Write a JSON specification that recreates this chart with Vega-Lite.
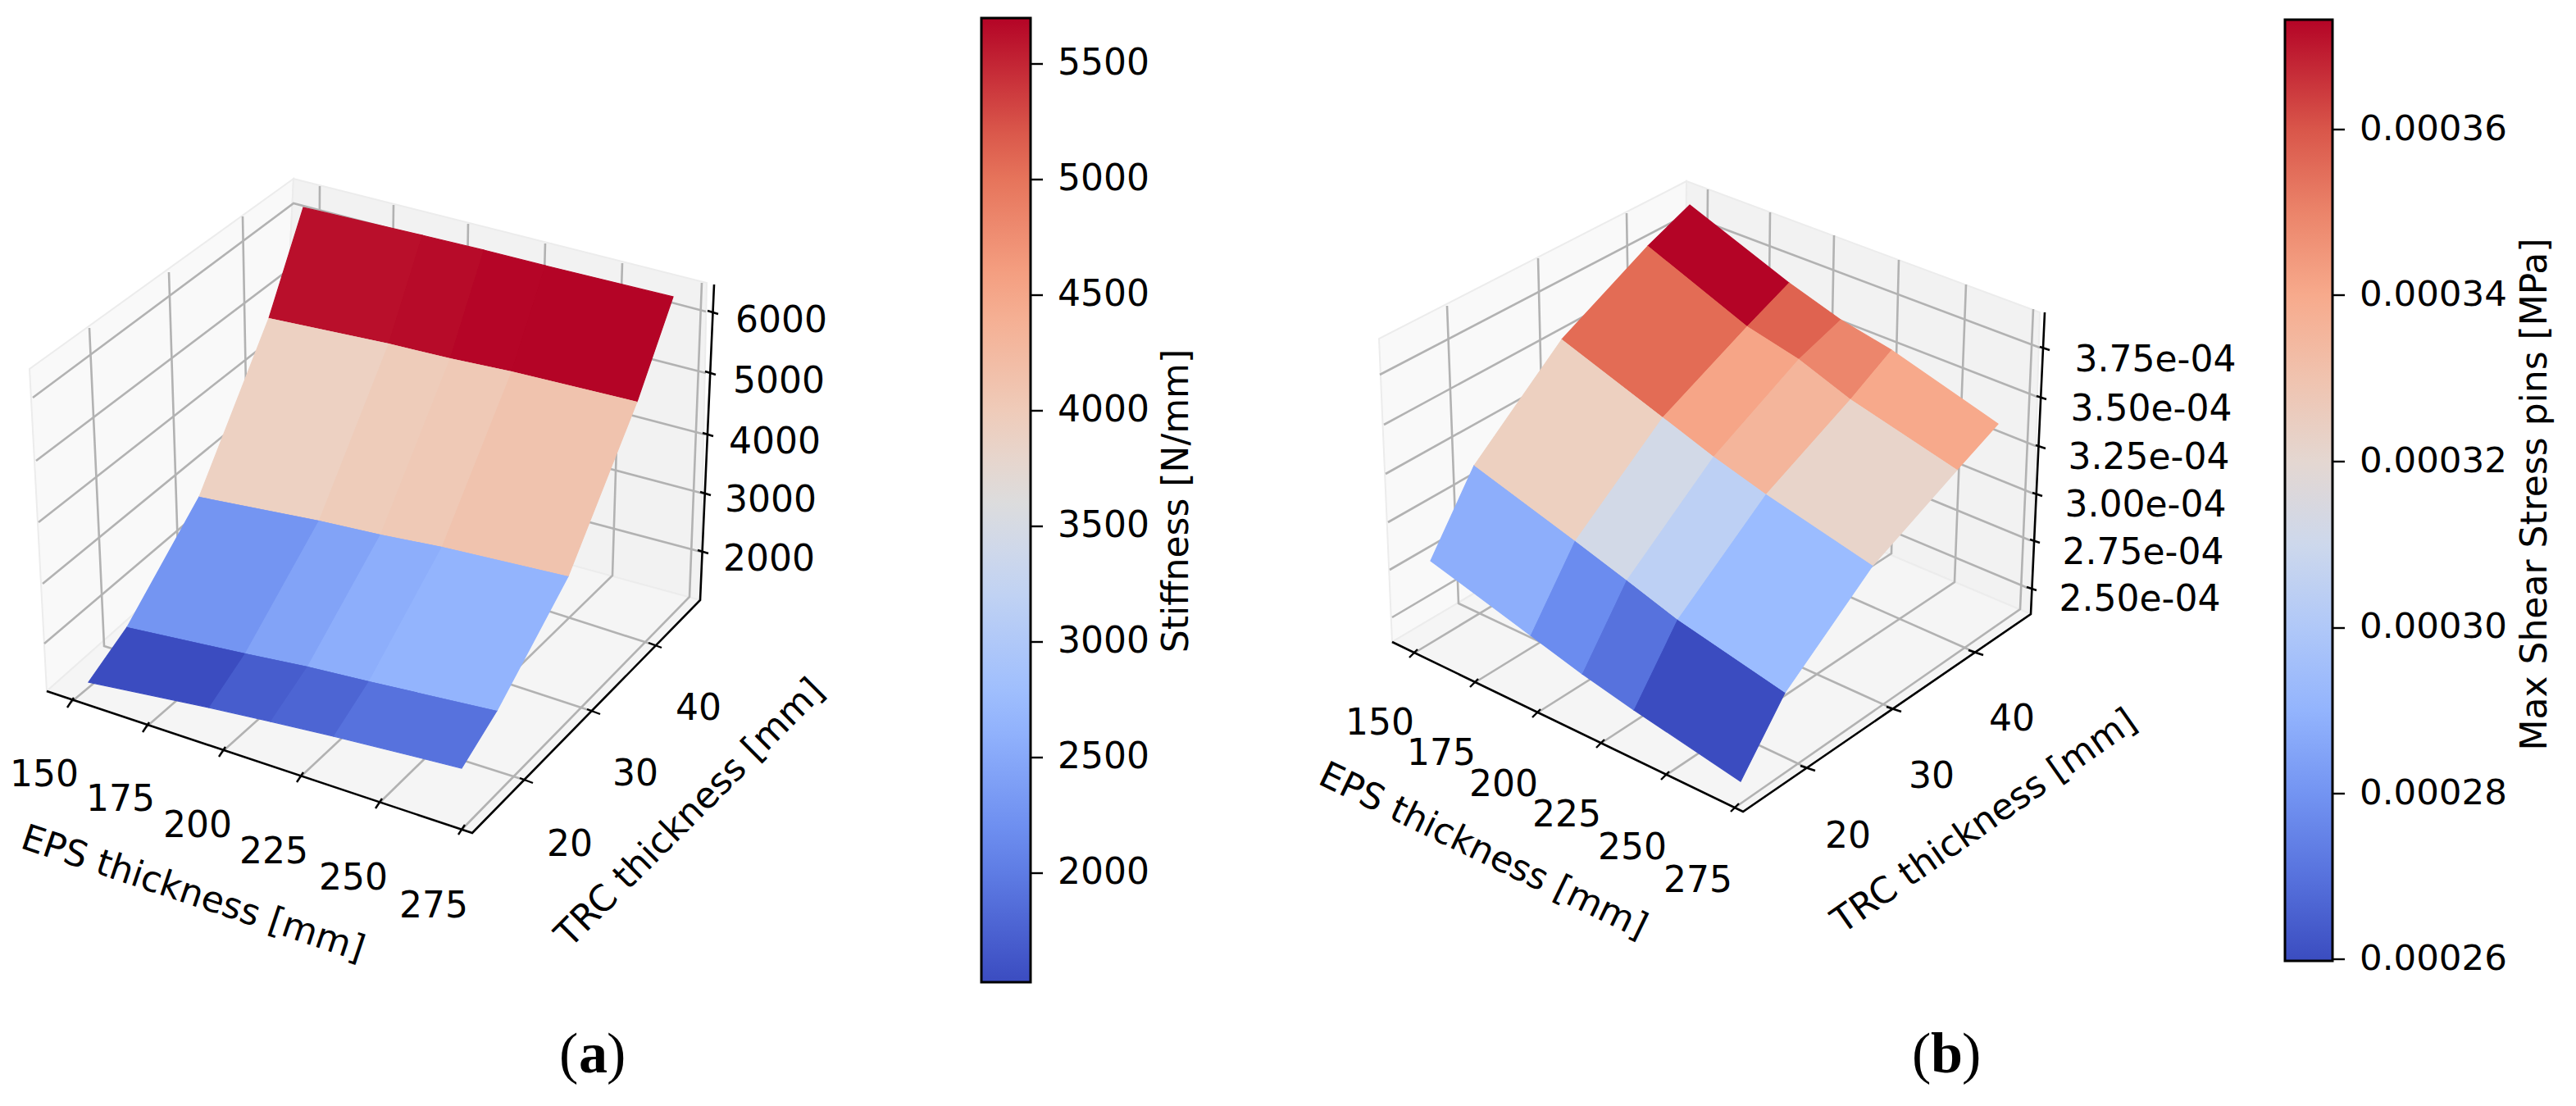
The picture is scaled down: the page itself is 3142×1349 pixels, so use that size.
{"$schema":"https://vega.github.io/schema/vega-lite/v6.json","width":3142,"height":1349,"padding":0,"autosize":{"type":"none"},"background":"white","view":{"stroke":null},
"datasets":{
"panes":[
{"id":"a-left","pane":"left","o":0,"x":57,"y":843},{"id":"a-left","pane":"left","o":1,"x":36,"y":450},{"id":"a-left","pane":"left","o":2,"x":358,"y":218},{"id":"a-left","pane":"left","o":3,"x":340,"y":592},
{"id":"a-right","pane":"right","o":0,"x":340,"y":592},{"id":"a-right","pane":"right","o":1,"x":358,"y":218},{"id":"a-right","pane":"right","o":2,"x":862,"y":345},{"id":"a-right","pane":"right","o":3,"x":854,"y":732},
{"id":"a-floor","pane":"floor","o":0,"x":57,"y":843},{"id":"a-floor","pane":"floor","o":1,"x":576,"y":1015},{"id":"a-floor","pane":"floor","o":2,"x":854,"y":732},{"id":"a-floor","pane":"floor","o":3,"x":340,"y":592},
{"id":"b-left","pane":"left","o":0,"x":1698,"y":783},{"id":"b-left","pane":"left","o":1,"x":1682,"y":413},{"id":"b-left","pane":"left","o":2,"x":2057,"y":221},{"id":"b-left","pane":"left","o":3,"x":2055,"y":571},
{"id":"b-right","pane":"right","o":0,"x":2055,"y":571},{"id":"b-right","pane":"right","o":1,"x":2057,"y":221},{"id":"b-right","pane":"right","o":2,"x":2488,"y":381},{"id":"b-right","pane":"right","o":3,"x":2477,"y":749},
{"id":"b-floor","pane":"floor","o":0,"x":1698,"y":783},{"id":"b-floor","pane":"floor","o":1,"x":2126,"y":990},{"id":"b-floor","pane":"floor","o":2,"x":2477,"y":749},{"id":"b-floor","pane":"floor","o":3,"x":2055,"y":571}
],
"lines":[
{"k":"grid","id":"az6","o":0,"x":40,"y":485},{"k":"grid","id":"az6","o":1,"x":358,"y":248},{"k":"grid","id":"az6","o":2,"x":861,"y":380},
{"k":"grid","id":"az5","o":0,"x":44,"y":562},{"k":"grid","id":"az5","o":1,"x":356,"y":326},{"k":"grid","id":"az5","o":2,"x":861,"y":455},
{"k":"grid","id":"az4","o":0,"x":47,"y":637},{"k":"grid","id":"az4","o":1,"x":353,"y":397},{"k":"grid","id":"az4","o":2,"x":860,"y":530},
{"k":"grid","id":"az3","o":0,"x":52,"y":712},{"k":"grid","id":"az3","o":1,"x":350,"y":468},{"k":"grid","id":"az3","o":2,"x":858,"y":602},
{"k":"grid","id":"az2","o":0,"x":54,"y":785},{"k":"grid","id":"az2","o":1,"x":345,"y":538},{"k":"grid","id":"az2","o":2,"x":855,"y":673},
{"k":"grid","id":"ae150","o":0,"x":86,"y":857},{"k":"grid","id":"ae150","o":1,"x":388,"y":605},{"k":"grid","id":"ae150","o":2,"x":390,"y":227},
{"k":"grid","id":"ae175","o":0,"x":178,"y":887},{"k":"grid","id":"ae175","o":1,"x":475,"y":628},{"k":"grid","id":"ae175","o":2,"x":480,"y":250},
{"k":"grid","id":"ae200","o":0,"x":271,"y":917},{"k":"grid","id":"ae200","o":1,"x":565,"y":653},{"k":"grid","id":"ae200","o":2,"x":571,"y":273},
{"k":"grid","id":"ae225","o":0,"x":366,"y":948},{"k":"grid","id":"ae225","o":1,"x":655,"y":677},{"k":"grid","id":"ae225","o":2,"x":665,"y":297},
{"k":"grid","id":"ae250","o":0,"x":462,"y":980},{"k":"grid","id":"ae250","o":1,"x":747,"y":702},{"k":"grid","id":"ae250","o":2,"x":759,"y":321},
{"k":"grid","id":"ae275","o":0,"x":563,"y":1012},{"k":"grid","id":"ae275","o":1,"x":841,"y":728},{"k":"grid","id":"ae275","o":2,"x":856,"y":345},
{"k":"grid","id":"at20","o":0,"x":642,"y":952},{"k":"grid","id":"at20","o":1,"x":127,"y":788},{"k":"grid","id":"at20","o":2,"x":109,"y":400},
{"k":"grid","id":"at30","o":0,"x":724,"y":868},{"k":"grid","id":"at30","o":1,"x":218,"y":702},{"k":"grid","id":"at30","o":2,"x":206,"y":332},
{"k":"grid","id":"at40","o":0,"x":799,"y":787},{"k":"grid","id":"at40","o":1,"x":303,"y":628},{"k":"grid","id":"at40","o":2,"x":296,"y":264},
{"k":"grid","id":"bz375","o":0,"x":1683,"y":457},{"k":"grid","id":"bz375","o":1,"x":2057,"y":262},{"k":"grid","id":"bz375","o":2,"x":2488,"y":424},
{"k":"grid","id":"bz350","o":0,"x":1688,"y":518},{"k":"grid","id":"bz350","o":1,"x":2057,"y":318},{"k":"grid","id":"bz350","o":2,"x":2485,"y":484},
{"k":"grid","id":"bz325","o":0,"x":1690,"y":578},{"k":"grid","id":"bz325","o":1,"x":2056,"y":374},{"k":"grid","id":"bz325","o":2,"x":2483,"y":544},
{"k":"grid","id":"bz300","o":0,"x":1693,"y":637},{"k":"grid","id":"bz300","o":1,"x":2056,"y":430},{"k":"grid","id":"bz300","o":2,"x":2480,"y":602},
{"k":"grid","id":"bz275","o":0,"x":1695,"y":695},{"k":"grid","id":"bz275","o":1,"x":2056,"y":486},{"k":"grid","id":"bz275","o":2,"x":2476,"y":659},
{"k":"grid","id":"bz250","o":0,"x":1698,"y":753},{"k":"grid","id":"bz250","o":1,"x":2055,"y":542},{"k":"grid","id":"bz250","o":2,"x":2473,"y":717},
{"k":"grid","id":"be150","o":0,"x":1724,"y":797},{"k":"grid","id":"be150","o":1,"x":2080,"y":582},{"k":"grid","id":"be150","o":2,"x":2083,"y":231},
{"k":"grid","id":"be175","o":0,"x":1798,"y":833},{"k":"grid","id":"be175","o":1,"x":2155,"y":613},{"k":"grid","id":"be175","o":2,"x":2159,"y":259},
{"k":"grid","id":"be200","o":0,"x":1874,"y":870},{"k":"grid","id":"be200","o":1,"x":2230,"y":645},{"k":"grid","id":"be200","o":2,"x":2237,"y":287},
{"k":"grid","id":"be225","o":0,"x":1952,"y":907},{"k":"grid","id":"be225","o":1,"x":2307,"y":675},{"k":"grid","id":"be225","o":2,"x":2316,"y":317},
{"k":"grid","id":"be250","o":0,"x":2031,"y":946},{"k":"grid","id":"be250","o":1,"x":2384,"y":710},{"k":"grid","id":"be250","o":2,"x":2398,"y":347},
{"k":"grid","id":"be275","o":0,"x":2116,"y":985},{"k":"grid","id":"be275","o":1,"x":2464,"y":743},{"k":"grid","id":"be275","o":2,"x":2480,"y":377},
{"k":"grid","id":"bt20","o":0,"x":2205,"y":937},{"k":"grid","id":"bt20","o":1,"x":1779,"y":736},{"k":"grid","id":"bt20","o":2,"x":1765,"y":373},
{"k":"grid","id":"bt30","o":0,"x":2310,"y":865},{"k":"grid","id":"bt30","o":1,"x":1885,"y":672},{"k":"grid","id":"bt30","o":2,"x":1876,"y":315},
{"k":"grid","id":"bt40","o":0,"x":2410,"y":796},{"k":"grid","id":"bt40","o":1,"x":1990,"y":610},{"k":"grid","id":"bt40","o":2,"x":1984,"y":260},
{"k":"axis","id":"a-axis","o":0,"x":57,"y":843},{"k":"axis","id":"a-axis","o":1,"x":576,"y":1016},{"k":"axis","id":"a-axis","o":2,"x":854,"y":732},{"k":"axis","id":"a-axis","o":3,"x":871,"y":347},
{"k":"axis","id":"b-axis","o":0,"x":1698,"y":783},{"k":"axis","id":"b-axis","o":1,"x":2126,"y":990},{"k":"axis","id":"b-axis","o":2,"x":2477,"y":749},{"k":"axis","id":"b-axis","o":3,"x":2494,"y":381},
{"k":"tick","id":"t1","o":0,"x":90,"y":851},{"k":"tick","id":"t1","o":1,"x":82,"y":863},
{"k":"tick","id":"t2","o":0,"x":182,"y":881},{"k":"tick","id":"t2","o":1,"x":174,"y":893},
{"k":"tick","id":"t3","o":0,"x":275,"y":911},{"k":"tick","id":"t3","o":1,"x":267,"y":923},
{"k":"tick","id":"t4","o":0,"x":370,"y":942},{"k":"tick","id":"t4","o":1,"x":362,"y":954},
{"k":"tick","id":"t5","o":0,"x":466,"y":974},{"k":"tick","id":"t5","o":1,"x":458,"y":986},
{"k":"tick","id":"t6","o":0,"x":567,"y":1006},{"k":"tick","id":"t6","o":1,"x":559,"y":1018},
{"k":"tick","id":"t7","o":0,"x":634,"y":949},{"k":"tick","id":"t7","o":1,"x":650,"y":955},
{"k":"tick","id":"t8","o":0,"x":716,"y":865},{"k":"tick","id":"t8","o":1,"x":732,"y":871},
{"k":"tick","id":"t9","o":0,"x":791,"y":784},{"k":"tick","id":"t9","o":1,"x":807,"y":790},
{"k":"tick","id":"t10","o":0,"x":863,"y":379},{"k":"tick","id":"t10","o":1,"x":876,"y":383},
{"k":"tick","id":"t11","o":0,"x":860,"y":453},{"k":"tick","id":"t11","o":1,"x":873,"y":457},
{"k":"tick","id":"t12","o":0,"x":857,"y":528},{"k":"tick","id":"t12","o":1,"x":870,"y":532},
{"k":"tick","id":"t13","o":0,"x":854,"y":600},{"k":"tick","id":"t13","o":1,"x":867,"y":604},
{"k":"tick","id":"t14","o":0,"x":851,"y":671},{"k":"tick","id":"t14","o":1,"x":864,"y":675},
{"k":"tick","id":"t15","o":0,"x":1729,"y":792},{"k":"tick","id":"t15","o":1,"x":1719,"y":802},
{"k":"tick","id":"t16","o":0,"x":1803,"y":828},{"k":"tick","id":"t16","o":1,"x":1793,"y":838},
{"k":"tick","id":"t17","o":0,"x":1879,"y":865},{"k":"tick","id":"t17","o":1,"x":1869,"y":875},
{"k":"tick","id":"t18","o":0,"x":1957,"y":902},{"k":"tick","id":"t18","o":1,"x":1947,"y":912},
{"k":"tick","id":"t19","o":0,"x":2036,"y":941},{"k":"tick","id":"t19","o":1,"x":2026,"y":951},
{"k":"tick","id":"t20","o":0,"x":2121,"y":980},{"k":"tick","id":"t20","o":1,"x":2111,"y":990},
{"k":"tick","id":"t21","o":0,"x":2196,"y":934},{"k":"tick","id":"t21","o":1,"x":2214,"y":940},
{"k":"tick","id":"t22","o":0,"x":2301,"y":862},{"k":"tick","id":"t22","o":1,"x":2319,"y":868},
{"k":"tick","id":"t23","o":0,"x":2401,"y":793},{"k":"tick","id":"t23","o":1,"x":2419,"y":799},
{"k":"tick","id":"t24","o":0,"x":2488,"y":423},{"k":"tick","id":"t24","o":1,"x":2500,"y":427},
{"k":"tick","id":"t25","o":0,"x":2484,"y":483},{"k":"tick","id":"t25","o":1,"x":2496,"y":487},
{"k":"tick","id":"t26","o":0,"x":2483,"y":543},{"k":"tick","id":"t26","o":1,"x":2495,"y":547},
{"k":"tick","id":"t27","o":0,"x":2479,"y":601},{"k":"tick","id":"t27","o":1,"x":2491,"y":605},
{"k":"tick","id":"t28","o":0,"x":2476,"y":658},{"k":"tick","id":"t28","o":1,"x":2488,"y":662},
{"k":"tick","id":"t29","o":0,"x":2472,"y":716},{"k":"tick","id":"t29","o":1,"x":2484,"y":720},
{"k":"cbar","id":"c1","o":0,"x":1257,"y":78},{"k":"cbar","id":"c1","o":1,"x":1272,"y":78},
{"k":"cbar","id":"c2","o":0,"x":1257,"y":219},{"k":"cbar","id":"c2","o":1,"x":1272,"y":219},
{"k":"cbar","id":"c3","o":0,"x":1257,"y":360},{"k":"cbar","id":"c3","o":1,"x":1272,"y":360},
{"k":"cbar","id":"c4","o":0,"x":1257,"y":501},{"k":"cbar","id":"c4","o":1,"x":1272,"y":501},
{"k":"cbar","id":"c5","o":0,"x":1257,"y":642},{"k":"cbar","id":"c5","o":1,"x":1272,"y":642},
{"k":"cbar","id":"c6","o":0,"x":1257,"y":783},{"k":"cbar","id":"c6","o":1,"x":1272,"y":783},
{"k":"cbar","id":"c7","o":0,"x":1257,"y":924},{"k":"cbar","id":"c7","o":1,"x":1272,"y":924},
{"k":"cbar","id":"c8","o":0,"x":1257,"y":1065},{"k":"cbar","id":"c8","o":1,"x":1272,"y":1065},
{"k":"cbar","id":"d1","o":0,"x":2845,"y":158},{"k":"cbar","id":"d1","o":1,"x":2860,"y":158},
{"k":"cbar","id":"d2","o":0,"x":2845,"y":360},{"k":"cbar","id":"d2","o":1,"x":2860,"y":360},
{"k":"cbar","id":"d3","o":0,"x":2845,"y":563},{"k":"cbar","id":"d3","o":1,"x":2860,"y":563},
{"k":"cbar","id":"d4","o":0,"x":2845,"y":766},{"k":"cbar","id":"d4","o":1,"x":2860,"y":766},
{"k":"cbar","id":"d5","o":0,"x":2845,"y":968},{"k":"cbar","id":"d5","o":1,"x":2860,"y":968},
{"k":"cbar","id":"d6","o":0,"x":2845,"y":1170},{"k":"cbar","id":"d6","o":1,"x":2860,"y":1170}
],
"surfaceA":[
{"c":"a00","o":0,"v":5630,"x":370,"y":253},{"c":"a00","o":1,"v":5630,"x":515,"y":287},{"c":"a00","o":2,"v":5630,"x":474,"y":419},{"c":"a00","o":3,"v":5630,"x":328,"y":388},
{"c":"a01","o":0,"v":5655,"x":515,"y":287},{"c":"a01","o":1,"v":5655,"x":590,"y":305},{"c":"a01","o":2,"v":5655,"x":549,"y":437},{"c":"a01","o":3,"v":5655,"x":474,"y":419},
{"c":"a02","o":0,"v":5690,"x":590,"y":305},{"c":"a02","o":1,"v":5690,"x":665,"y":324},{"c":"a02","o":2,"v":5690,"x":624,"y":453},{"c":"a02","o":3,"v":5690,"x":549,"y":437},
{"c":"a03","o":0,"v":5697,"x":665,"y":324},{"c":"a03","o":1,"v":5697,"x":821,"y":362},{"c":"a03","o":2,"v":5697,"x":777,"y":490},{"c":"a03","o":3,"v":5697,"x":624,"y":453},
{"c":"a10","o":0,"v":3904,"x":328,"y":388},{"c":"a10","o":1,"v":3904,"x":474,"y":419},{"c":"a10","o":2,"v":3904,"x":389,"y":635},{"c":"a10","o":3,"v":3904,"x":243,"y":606},
{"c":"a11","o":0,"v":3988,"x":474,"y":419},{"c":"a11","o":1,"v":3988,"x":549,"y":437},{"c":"a11","o":2,"v":3988,"x":464,"y":652},{"c":"a11","o":3,"v":3988,"x":389,"y":635},
{"c":"a12","o":0,"v":4029,"x":549,"y":437},{"c":"a12","o":1,"v":4029,"x":624,"y":453},{"c":"a12","o":2,"v":4029,"x":539,"y":667},{"c":"a12","o":3,"v":4029,"x":464,"y":652},
{"c":"a13","o":0,"v":4113,"x":624,"y":453},{"c":"a13","o":1,"v":4113,"x":777,"y":490},{"c":"a13","o":2,"v":4113,"x":693,"y":703},{"c":"a13","o":3,"v":4113,"x":539,"y":667},
{"c":"a20","o":0,"v":2278,"x":243,"y":606},{"c":"a20","o":1,"v":2278,"x":389,"y":635},{"c":"a20","o":2,"v":2278,"x":299,"y":797},{"c":"a20","o":3,"v":2278,"x":155,"y":765},
{"c":"a21","o":0,"v":2445,"x":389,"y":635},{"c":"a21","o":1,"v":2445,"x":464,"y":652},{"c":"a21","o":2,"v":2445,"x":375,"y":813},{"c":"a21","o":3,"v":2445,"x":299,"y":797},
{"c":"a22","o":0,"v":2570,"x":464,"y":652},{"c":"a22","o":1,"v":2570,"x":539,"y":667},{"c":"a22","o":2,"v":2570,"x":450,"y":831},{"c":"a22","o":3,"v":2570,"x":375,"y":813},
{"c":"a23","o":0,"v":2633,"x":539,"y":667},{"c":"a23","o":1,"v":2633,"x":693,"y":703},{"c":"a23","o":2,"v":2633,"x":606,"y":867},{"c":"a23","o":3,"v":2633,"x":450,"y":831},
{"c":"a30","o":0,"v":1528,"x":155,"y":765},{"c":"a30","o":1,"v":1528,"x":299,"y":797},{"c":"a30","o":2,"v":1528,"x":255,"y":863},{"c":"a30","o":3,"v":1528,"x":108,"y":832},
{"c":"a31","o":0,"v":1695,"x":299,"y":797},{"c":"a31","o":1,"v":1695,"x":375,"y":813},{"c":"a31","o":2,"v":1695,"x":330,"y":880},{"c":"a31","o":3,"v":1695,"x":255,"y":863},
{"c":"a32","o":0,"v":1778,"x":375,"y":813},{"c":"a32","o":1,"v":1778,"x":450,"y":831},{"c":"a32","o":2,"v":1778,"x":407,"y":898},{"c":"a32","o":3,"v":1778,"x":330,"y":880},
{"c":"a33","o":0,"v":1903,"x":450,"y":831},{"c":"a33","o":1,"v":1903,"x":606,"y":867},{"c":"a33","o":2,"v":1903,"x":563,"y":937},{"c":"a33","o":3,"v":1903,"x":407,"y":898}
],
"surfaceB":[
{"c":"b00","o":0,"v":0.0003732,"x":2061,"y":250},{"c":"b00","o":1,"v":0.0003732,"x":2182,"y":345},{"c":"b00","o":2,"v":0.0003732,"x":2131,"y":398},{"c":"b00","o":3,"v":0.0003732,"x":2010,"y":300},
{"c":"b01","o":0,"v":0.0003579,"x":2182,"y":345},{"c":"b01","o":1,"v":0.0003579,"x":2245,"y":390},{"c":"b01","o":2,"v":0.0003579,"x":2194,"y":438},{"c":"b01","o":3,"v":0.0003579,"x":2131,"y":398},
{"c":"b02","o":0,"v":0.0003494,"x":2245,"y":390},{"c":"b02","o":1,"v":0.0003494,"x":2307,"y":427},{"c":"b02","o":2,"v":0.0003494,"x":2257,"y":487},{"c":"b02","o":3,"v":0.0003494,"x":2194,"y":438},
{"c":"b03","o":0,"v":0.00034033,"x":2307,"y":427},{"c":"b03","o":1,"v":0.00034033,"x":2437,"y":517},{"c":"b03","o":2,"v":0.00034033,"x":2387,"y":573},{"c":"b03","o":3,"v":0.00034033,"x":2257,"y":487},
{"c":"b10","o":0,"v":0.0003562,"x":2010,"y":300},{"c":"b10","o":1,"v":0.0003562,"x":2131,"y":398},{"c":"b10","o":2,"v":0.0003562,"x":2028,"y":509},{"c":"b10","o":3,"v":0.0003562,"x":1905,"y":414},
{"c":"b11","o":0,"v":0.00034146,"x":2131,"y":398},{"c":"b11","o":1,"v":0.00034146,"x":2194,"y":438},{"c":"b11","o":2,"v":0.00034146,"x":2090,"y":557},{"c":"b11","o":3,"v":0.00034146,"x":2028,"y":509},
{"c":"b12","o":0,"v":0.00033579,"x":2194,"y":438},{"c":"b12","o":1,"v":0.00033579,"x":2257,"y":487},{"c":"b12","o":2,"v":0.00033579,"x":2154,"y":603},{"c":"b12","o":3,"v":0.00033579,"x":2090,"y":557},
{"c":"b13","o":0,"v":0.00032219,"x":2257,"y":487},{"c":"b13","o":1,"v":0.00032219,"x":2387,"y":573},{"c":"b13","o":2,"v":0.00032219,"x":2284,"y":690},{"c":"b13","o":3,"v":0.00032219,"x":2154,"y":603},
{"c":"b20","o":0,"v":0.00032503,"x":1905,"y":414},{"c":"b20","o":1,"v":0.00032503,"x":2028,"y":509},{"c":"b20","o":2,"v":0.00032503,"x":1921,"y":660},{"c":"b20","o":3,"v":0.00032503,"x":1798,"y":568},
{"c":"b21","o":0,"v":0.0003122,"x":2028,"y":509},{"c":"b21","o":1,"v":0.0003122,"x":2090,"y":557},{"c":"b21","o":2,"v":0.0003122,"x":1984,"y":708},{"c":"b21","o":3,"v":0.0003122,"x":1921,"y":660},
{"c":"b22","o":0,"v":0.00030428,"x":2090,"y":557},{"c":"b22","o":1,"v":0.00030428,"x":2154,"y":603},{"c":"b22","o":2,"v":0.00030428,"x":2046,"y":756},{"c":"b22","o":3,"v":0.00030428,"x":1984,"y":708},
{"c":"b23","o":0,"v":0.00029272,"x":2154,"y":603},{"c":"b23","o":1,"v":0.00029272,"x":2284,"y":690},{"c":"b23","o":2,"v":0.00029272,"x":2177,"y":845},{"c":"b23","o":3,"v":0.00029272,"x":2046,"y":756},
{"c":"b30","o":0,"v":0.00028819,"x":1798,"y":568},{"c":"b30","o":1,"v":0.00028819,"x":1921,"y":660},{"c":"b30","o":2,"v":0.00028819,"x":1867,"y":775},{"c":"b30","o":3,"v":0.00028819,"x":1745,"y":684},
{"c":"b31","o":0,"v":0.00027742,"x":1921,"y":660},{"c":"b31","o":1,"v":0.00027742,"x":1984,"y":708},{"c":"b31","o":2,"v":0.00027742,"x":1930,"y":822},{"c":"b31","o":3,"v":0.00027742,"x":1867,"y":775},
{"c":"b32","o":0,"v":0.00027005,"x":1984,"y":708},{"c":"b32","o":1,"v":0.00027005,"x":2046,"y":756},{"c":"b32","o":2,"v":0.00027005,"x":1993,"y":866},{"c":"b32","o":3,"v":0.00027005,"x":1930,"y":822},
{"c":"b33","o":0,"v":0.00025985,"x":2046,"y":756},{"c":"b33","o":1,"v":0.00025985,"x":2177,"y":845},{"c":"b33","o":2,"v":0.00025985,"x":2123,"y":953},{"c":"b33","o":3,"v":0.00025985,"x":1993,"y":866}
],
"labels":[
{"t":"6000","x":953,"y":389,"a":0},{"t":"5000","x":950,"y":463,"a":0},{"t":"4000","x":945,"y":537,"a":0},{"t":"3000","x":940,"y":608,"a":0},{"t":"2000","x":938,"y":680,"a":0},
{"t":"150","x":54,"y":943,"a":0},{"t":"175","x":147,"y":973,"a":0},{"t":"200","x":241,"y":1005,"a":0},{"t":"225","x":334,"y":1037,"a":0},{"t":"250","x":431,"y":1069,"a":0},{"t":"275","x":529,"y":1103,"a":0},
{"t":"20","x":695,"y":1028,"a":0},{"t":"30","x":775,"y":942,"a":0},{"t":"40","x":852,"y":862,"a":0},
{"t":"EPS thickness [mm]","x":236,"y":1088,"a":18.5},{"t":"TRC thickness [mm]","x":840,"y":990,"a":-45},
{"t":"3.75e-04","x":2629,"y":437,"a":0},{"t":"3.50e-04","x":2624,"y":497,"a":0},{"t":"3.25e-04","x":2621,"y":556,"a":0},{"t":"3.00e-04","x":2617,"y":614,"a":0},{"t":"2.75e-04","x":2614,"y":672,"a":0},{"t":"2.50e-04","x":2610,"y":729,"a":0},
{"t":"150","x":1683,"y":880,"a":0},{"t":"175","x":1758,"y":917,"a":0},{"t":"200","x":1834,"y":955,"a":0},{"t":"225","x":1911,"y":992,"a":0},{"t":"250","x":1991,"y":1032,"a":0},{"t":"275","x":2071,"y":1072,"a":0},
{"t":"20","x":2254,"y":1018,"a":0},{"t":"30","x":2356,"y":945,"a":0},{"t":"40","x":2454,"y":875,"a":0},
{"t":"EPS thickness [mm]","x":1810,"y":1036,"a":25.8},{"t":"TRC thickness [mm]","x":2419,"y":1000,"a":-35},
{"t":"Stiffness [N/mm]","x":1433,"y":611,"a":-90},{"t":"Max Shear Stress pins [MPa]","x":3090,"y":603,"a":-90}
],
"parens":[{"t":"(","x":682,"y":1308},{"t":")","x":740,"y":1308},{"t":"(","x":2332,"y":1308},{"t":")","x":2393,"y":1308}],
"letters":[{"t":"a","x":706,"y":1308},{"t":"b","x":2355,"y":1308}]
},
"encoding":{
"x":{"field":"x","type":"quantitative","axis":null,"scale":{"domain":[0,3142],"nice":false,"zero":false}},
"y":{"field":"y","type":"quantitative","axis":null,"scale":{"domain":[1349,0],"nice":false,"zero":false}}
},
"layer":[
{"data":{"name":"panes"},"mark":{"type":"line","interpolate":"linear-closed","stroke":"#ececec","strokeWidth":2},
 "encoding":{"detail":{"field":"id"},"order":{"field":"o","type":"quantitative"},"fill":{"field":"pane","type":"nominal","legend":null,"scale":{"domain":["left","right","floor"],"range":["#f9f9f9","#f2f2f2","#f5f5f5"]}}}},
{"data":{"name":"lines"},"transform":[{"filter":"datum.k==='grid'"}],"mark":{"type":"line","stroke":"#b2b2b2","strokeWidth":2.6},
 "encoding":{"detail":{"field":"id"},"order":{"field":"o","type":"quantitative"}}},
{"data":{"name":"lines"},"transform":[{"filter":"datum.k==='axis'"}],"mark":{"type":"line","stroke":"#000000","strokeWidth":2.6},
 "encoding":{"detail":{"field":"id"},"order":{"field":"o","type":"quantitative"}}},
{"data":{"name":"lines"},"transform":[{"filter":"datum.k==='tick'||datum.k==='cbar'"}],"mark":{"type":"line","stroke":"#000000","strokeWidth":2.4},
 "encoding":{"detail":{"field":"id"},"order":{"field":"o","type":"quantitative"}}},
{"data":{"name":"surfaceA"},"mark":{"type":"line","interpolate":"linear-closed","strokeWidth":1.2},
 "encoding":{"detail":{"field":"c"},"order":{"field":"o","type":"quantitative"},
 "stroke":{"field":"v","type":"quantitative","legend":null,"scale":{"interpolate":"rgb","domain":[1528,2124,2720,3317,3612.5,3908,4505,5101,5697],"range":["#3b4cc0","#6788ee","#9abbff","#c9d7f0","#dddcdc","#edd1c2","#f7a889","#e26952","#b40426"]}}}},
{"data":{"name":"surfaceB"},"mark":{"type":"line","interpolate":"linear-closed","strokeWidth":1.2},
 "encoding":{"detail":{"field":"c"},"order":{"field":"o","type":"quantitative"},
 "stroke":{"field":"v","type":"quantitative","legend":null,"scale":{"interpolate":"rgb","domain":[0.00025985,0.00027606,0.00029227,0.00030848,0.00031653,0.00032457,0.00034078,0.00035699,0.0003732],"range":["#3b4cc0","#6788ee","#9abbff","#c9d7f0","#dddcdc","#edd1c2","#f7a889","#e26952","#b40426"]}}}},
{"data":{"name":"surfaceA"},"mark":{"type":"line","interpolate":"linear-closed","filled":true},
 "encoding":{"detail":{"field":"c"},"order":{"field":"o","type":"quantitative"},
 "color":{"field":"v","type":"quantitative","scale":{"interpolate":"rgb","domain":[1528,2124,2720,3317,3612.5,3908,4505,5101,5697],"range":["#3b4cc0","#6788ee","#9abbff","#c9d7f0","#dddcdc","#edd1c2","#f7a889","#e26952","#b40426"]},
 "legend":{"orient":"none","legendX":1197,"legendY":22,"title":null,"type":"gradient","direction":"vertical","gradientLength":1176,"gradientThickness":60,"gradientStrokeColor":"#000000","gradientStrokeWidth":3,"values":[2000,2500,3000,3500,4000,4500,5000,5500],"format":"d","labelFont":"DejaVu Sans","labelFontSize":44,"labelColor":"#000000","labelOffset":33,"labelLimit":400,"labelOverlap":false,"encoding":{"labels":{"update":{"dy":{"value":3}}}}}}}},
{"data":{"name":"surfaceB"},"mark":{"type":"line","interpolate":"linear-closed","filled":true},
 "encoding":{"detail":{"field":"c"},"order":{"field":"o","type":"quantitative"},
 "color":{"field":"v","type":"quantitative","scale":{"interpolate":"rgb","domain":[0.00025985,0.00027606,0.00029227,0.00030848,0.00031653,0.00032457,0.00034078,0.00035699,0.0003732],"range":["#3b4cc0","#6788ee","#9abbff","#c9d7f0","#dddcdc","#edd1c2","#f7a889","#e26952","#b40426"]},
 "legend":{"orient":"none","legendX":2787,"legendY":24,"title":null,"type":"gradient","direction":"vertical","gradientLength":1148,"gradientThickness":58,"gradientStrokeColor":"#000000","gradientStrokeWidth":3,"values":[0.00026,0.00028,0.0003,0.00032,0.00034,0.00036],"format":".5f","labelFont":"DejaVu Sans","labelFontSize":43.5,"labelColor":"#000000","labelOffset":33,"labelLimit":400,"labelOverlap":false,"encoding":{"labels":{"update":{"dy":{"value":3}}}}}}}},
{"data":{"name":"labels"},"mark":{"type":"text","font":"DejaVu Sans","fontSize":44,"baseline":"middle","align":"center","color":"#000000","dy":3},
 "encoding":{"text":{"field":"t"},"angle":{"field":"a","type":"quantitative","scale":null}}},
{"data":{"name":"parens"},"mark":{"type":"text","font":"Liberation Serif","fontSize":70,"baseline":"alphabetic","align":"left","color":"#000000"},"encoding":{"text":{"field":"t"}}},
{"data":{"name":"letters"},"mark":{"type":"text","font":"Liberation Serif","fontSize":70,"fontWeight":"bold","baseline":"alphabetic","align":"left","color":"#000000"},"encoding":{"text":{"field":"t"}}}
],
"resolve":{"scale":{"color":"independent","stroke":"independent"},"legend":{"color":"independent"}}
}
